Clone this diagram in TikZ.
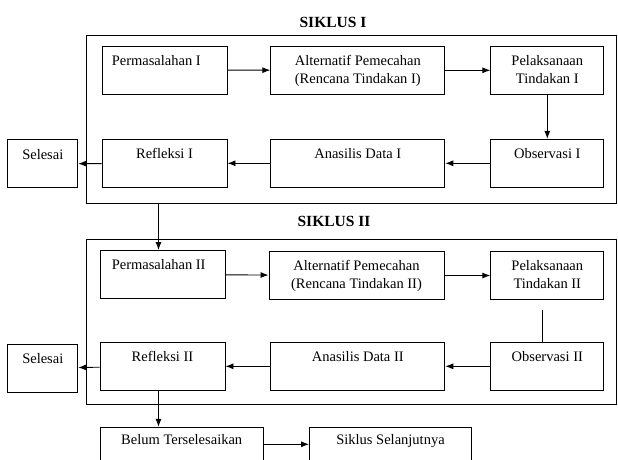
\documentclass[tikz,border=0pt]{standalone}
\usepackage{fontspec}
\setmainfont{Liberation Serif}
\usetikzlibrary{arrows.meta}
\tikzstyle{box}=[draw, line width=0.9pt, minimum height=48pt, inner sep=0]
\tikzstyle{frm}=[draw, line width=0.9pt, inner sep=0]
\tikzstyle{txt}=[font=\fontsize{14.5}{17.5}\selectfont, align=center, inner sep=2pt, anchor=north, yshift=-7.5pt]
\tikzstyle{arr}=[-{Latex[length=8pt,width=6pt]}, line width=0.9pt]
\tikzstyle{ttl}=[font=\bfseries\fontsize{15.5}{18}\selectfont, inner sep=0]

\begin{document}
\begin{tikzpicture}[x=1pt, y=-1pt]
\useasboundingbox (0,0) rectangle (618,459);
\clip (0,0) rectangle (618,459);
% siklus I
\draw (333,22.7) node[ttl](t1) {SIKLUS I};
\draw (351,119) node[frm, minimum width=530pt, minimum height=168pt](f1) {};
\draw (164.5,70) node[box, minimum width=125pt, label={[txt, anchor=north west, xshift=8pt]north west:Permasalahan I}](perm1) {};
\draw (357.8,70.3) node[box, minimum width=174pt, label={[txt]north:Alternatif Pemecahan\\(Rencana Tindakan I)}](alt1) {};
\draw (547.3,70.3) node[box, minimum width=113pt, label={[txt]north:Pelaksanaan\\Tindakan I}](pel1) {};
\draw (547.3,163.3) node[box, minimum width=113pt, label={[txt]north:Observasi I}](obs1) {};
\draw (357.8,163.3) node[box, minimum width=174pt, label={[txt]north:Anasilis Data I}](ana1) {};
\draw (164.5,163.3) node[box, minimum width=125pt, label={[txt]north:Refleksi I}](ref1) {};
\draw (42.8,163.8) node[box, minimum width=70pt, label={[txt]north:Selesai}](sel1) {};
\draw[arr] (perm1)--(alt1);
\draw[arr] (alt1)--(pel1);
\draw[arr] (pel1)--(obs1);
\draw[arr] (obs1)--(ana1);
\draw[arr] (ana1)--(ref1);
\draw[arr] (ref1)--(sel1);
% siklus II
\draw (334,221.7) node[ttl](t2) {SIKLUS II};
\draw (351.3,321.7) node[frm, minimum width=530.7pt, minimum height=165.3pt](f2) {};
\draw (162.5,274.5) node[box, minimum width=125pt, label={[txt, anchor=north west, xshift=10pt]north west:Permasalahan II}](perm2) {};
\draw (356.5,275.5) node[box, minimum width=175pt, label={[txt]north:Alternatif Pemecahan\\(Rencana Tindakan II)}](alt2) {};
\draw (547.3,275.5) node[box, minimum width=113pt, label={[txt]north:Pelaksanaan\\Tindakan II}](pel2) {};
\draw (547.3,366.3) node[box, minimum width=113pt, label={[txt]north:Observasi II}](obs2) {};
\draw (357.8,366.3) node[box, minimum width=174pt, label={[txt]north:Anasilis Data II}](ana2) {};
\draw (162.5,366.3) node[box, minimum width=125pt, label={[txt]north:Refleksi II}](ref2) {};
\draw (42.8,368) node[box, minimum width=70pt, label={[txt]north:Selesai}](sel2) {};
\draw[arr] ([xshift=-4pt]f1.south -| perm2.north)--([xshift=-4pt]perm2.north);
\draw[arr] (perm2)--(alt2);
\draw[arr] (alt2)--(pel2);
\draw[line width=0.9pt] ([xshift=-5pt, yshift=-10pt]pel2.south)--([xshift=-5pt]obs2.north);
\draw[arr] (obs2)--(ana2);
\draw[arr] (ana2)--(ref2);
\draw[arr] (ref2)--(sel2);
% lanjut
\draw (181.7,451.3) node[box, minimum width=163pt, label={[txt, yshift=2pt]north:Belum Terselesaikan}](blm) {};
\draw (390.5,451.3) node[box, minimum width=162pt, label={[txt, yshift=2pt]north:Siklus Selanjutnya}](skl) {};
\draw[arr] ([xshift=-4pt]ref2.south)--([xshift=-4pt]ref2.south |- blm.north);
\draw[arr] ([yshift=7pt]blm.east)--([yshift=7pt]skl.west);
\end{tikzpicture}
\end{document}
